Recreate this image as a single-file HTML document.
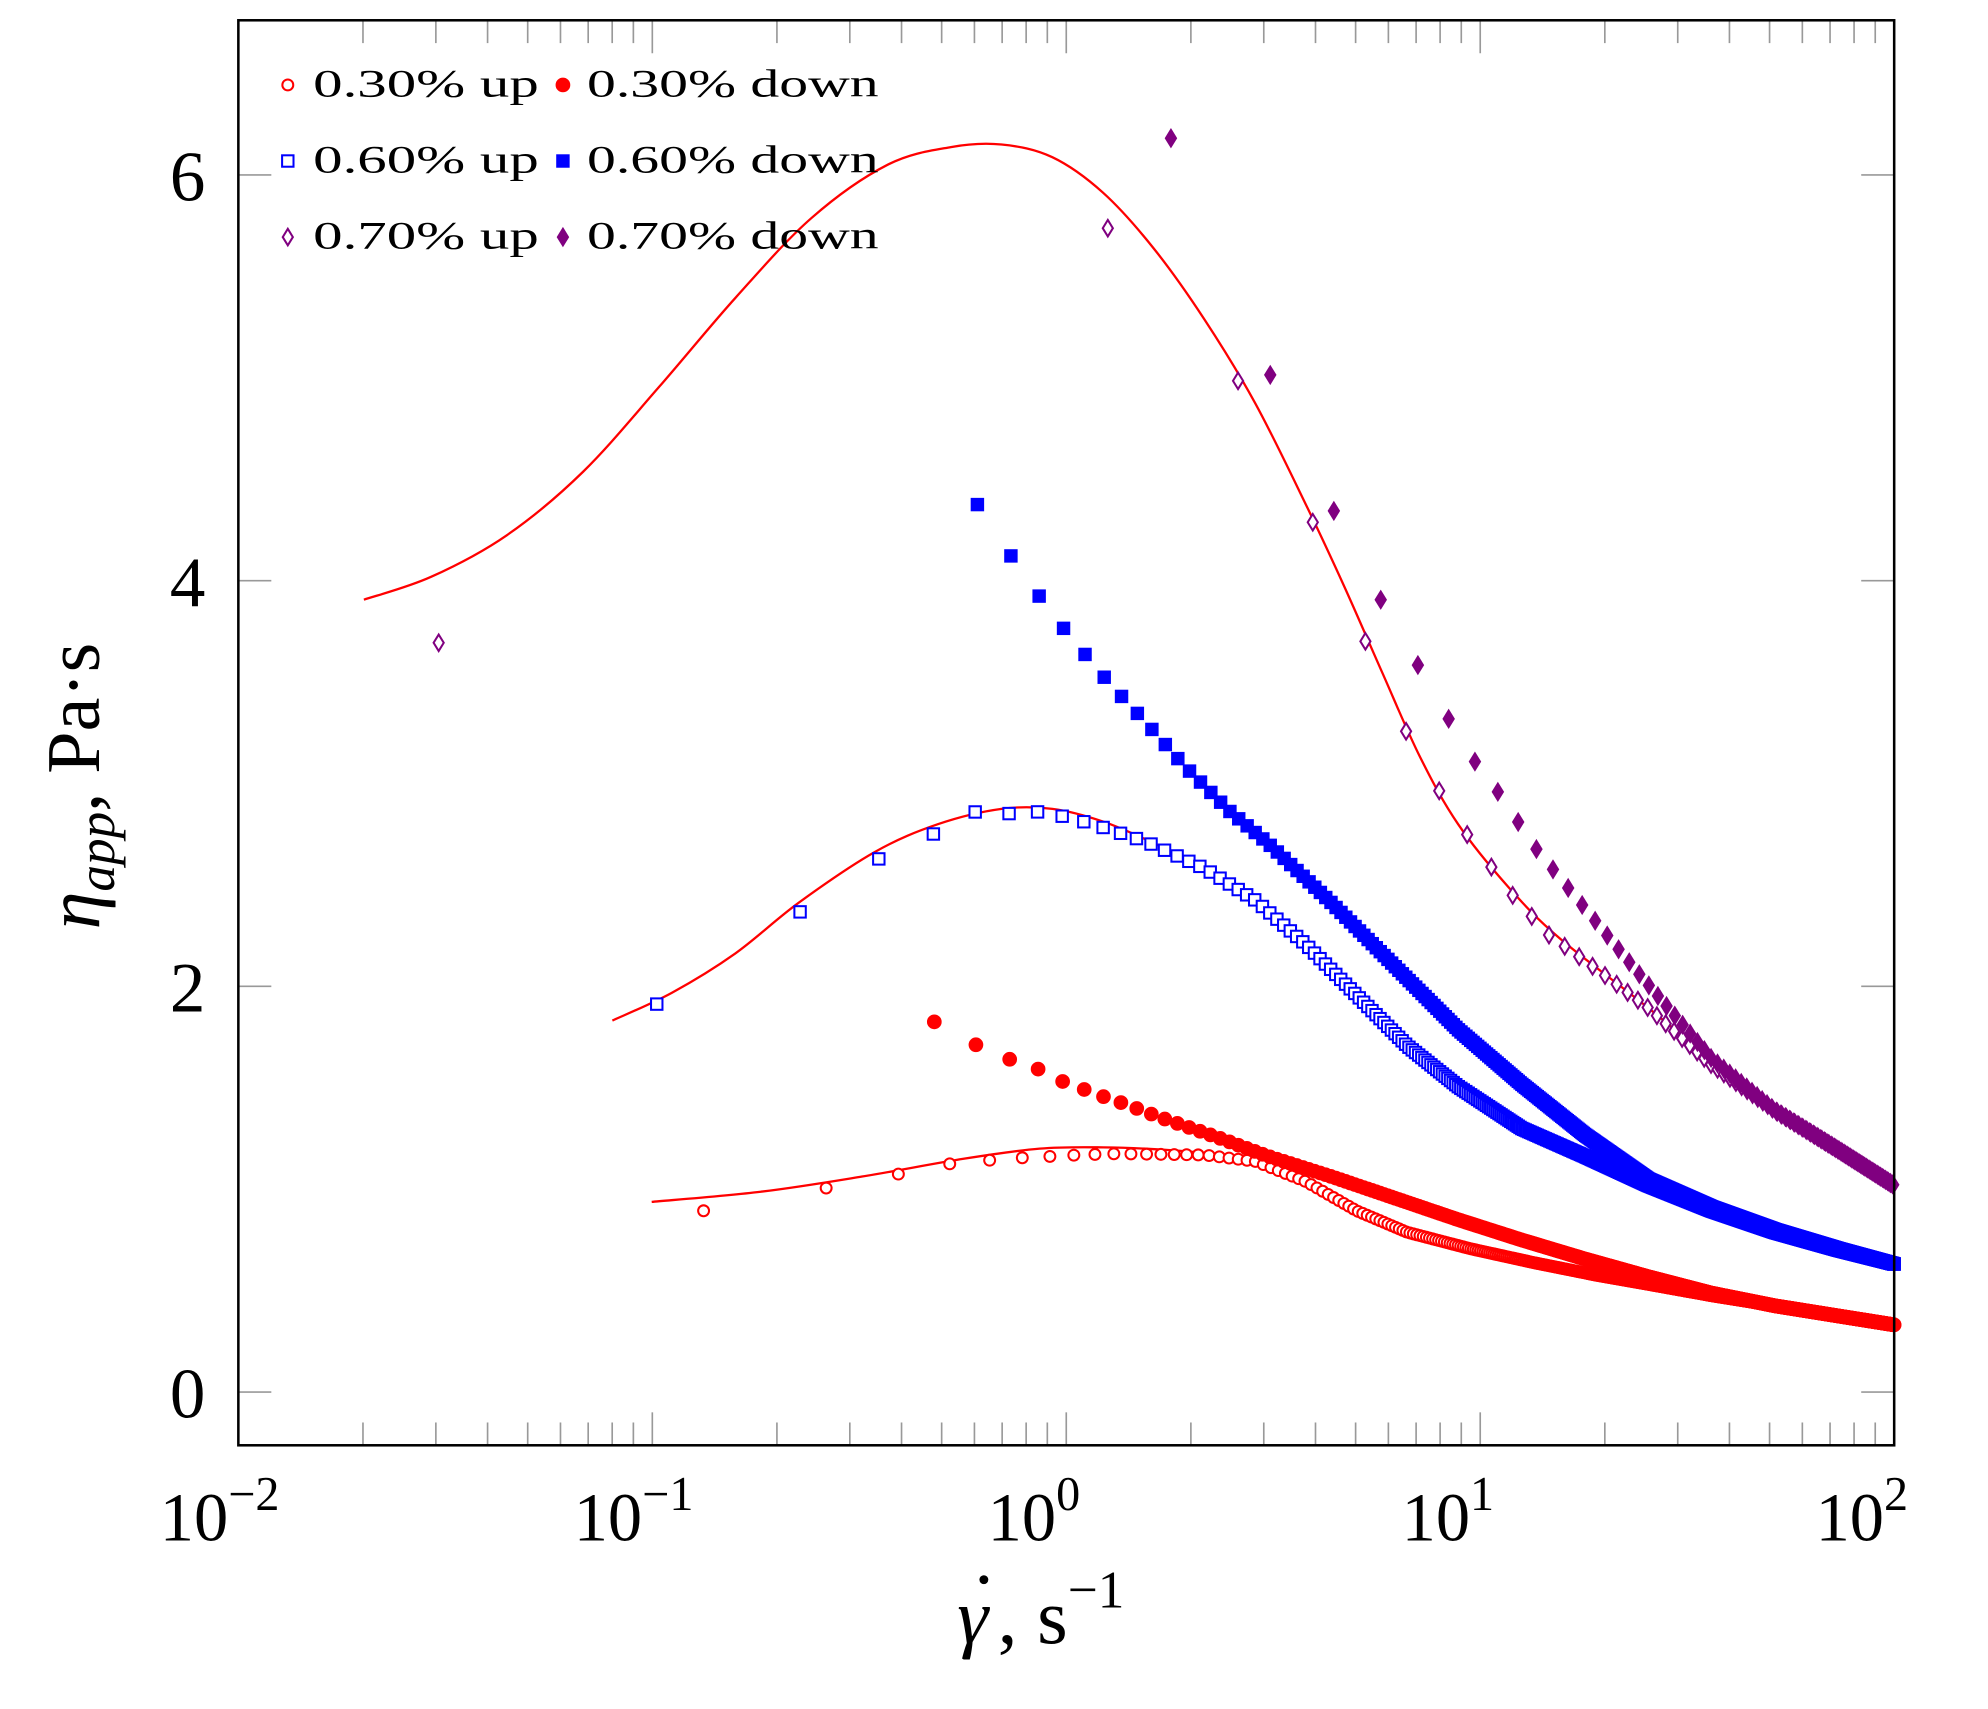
<!DOCTYPE html>
<html><head><meta charset="utf-8"><style>
html,body{margin:0;padding:0;background:#fff}
svg{display:block}
text{font-family:"Liberation Serif",serif;fill:#000}
</style></head><body>
<svg id="s" width="1988" height="1709" viewBox="0 0 1568 1348" preserveAspectRatio="none" xmlns="http://www.w3.org/2000/svg">
<rect x="0" y="0" width="1568" height="1348" fill="#fff"/>
<g id="ticks" stroke="#999" stroke-width="1.3"></g>
<g id="curves" fill="none" stroke="#f00" stroke-width="1.8"></g>
<g id="pts"></g>
<rect x="188" y="16" width="1306" height="1124" fill="none" stroke="#000" stroke-width="2"/>
<g font-size="56" text-anchor="middle">
<text x="148" y="1118">0</text>
<text x="148" y="798">2</text>
<text x="148" y="478">4</text>
<text x="148" y="158">6</text>
</g>
<g id="xl" font-size="54"></g>
<text x="755" y="1296" font-size="62" font-style="italic">γ</text>
<circle cx="776" cy="1246" r="3.5" fill="#000"/>
<text x="787" y="1296" font-size="62">, s<tspan dy="-28" font-size="42">−1</tspan></text>
<text transform="translate(78,620) rotate(-90)" font-size="60" text-anchor="middle"><tspan font-style="italic">η</tspan><tspan font-style="italic" font-size="42" dy="12">app</tspan><tspan dy="-12">, Pa·s</tspan></text>
<g font-size="31">
<text x="247" y="76" textLength="178" lengthAdjust="spacingAndGlyphs">0.30% up</text>
<text x="463" y="76" textLength="230" lengthAdjust="spacingAndGlyphs">0.30% down</text>
<text x="247" y="136" textLength="178" lengthAdjust="spacingAndGlyphs">0.60% up</text>
<text x="463" y="136" textLength="230" lengthAdjust="spacingAndGlyphs">0.60% down</text>
<text x="247" y="196" textLength="178" lengthAdjust="spacingAndGlyphs">0.70% up</text>
<text x="463" y="196" textLength="230" lengthAdjust="spacingAndGlyphs">0.70% down</text>
</g>
</svg>
<script>
var NS="http://www.w3.org/2000/svg";
function el(p,t,a){var e=document.createElementNS(NS,t);for(var k in a)e.setAttribute(k,a[k]);p.appendChild(e);return e;}
var L=188,R=1494,T=16,B=1140,D=326.5;
function X(g){return L+D*(Math.log10(g)+2);}
var tk=document.getElementById('ticks');
for(var d=-2;d<2;d++){for(var m=1;m<10;m++){var x=X(m*Math.pow(10,d));var len=m==1?26:18;
 el(tk,'line',{x1:x,y1:B,x2:x,y2:B-len});el(tk,'line',{x1:x,y1:T,x2:x,y2:T+len});}}
[0,2,4,6].forEach(function(v){var y=1098-160*v;el(tk,'line',{x1:L,y1:y,x2:L+26,y2:y});el(tk,'line',{x1:R,y1:y,x2:R-26,y2:y});});
var xl=document.getElementById('xl');
[-2,-1,0,1,2].forEach(function(d){var x=X(Math.pow(10,d));var t=el(xl,'text',{x:x-62,y:1215});
 t.textContent='10';var s=el(t,'tspan',{dy:-24,'font-size':38});s.textContent=d<0?'−'+(-d):''+d;});
function interp(a,x){if(x<=a[0][0])return a[0][1];for(var i=1;i<a.length;i++){if(x<=a[i][0]){var t=(x-a[i-1][0])/(a[i][0]-a[i-1][0]);return a[i-1][1]+t*(a[i][1]-a[i-1][1]);}}return a[a.length-1][1];}
function path(a){var c=document.getElementById('curves');var d='M'+a[0][0]+' '+a[0][1];
 for(var i=0;i<a.length-1;i++){var p0=a[Math.max(0,i-1)],p1=a[i],p2=a[i+1],p3=a[Math.min(a.length-1,i+2)];
 d+=' C'+(p1[0]+(p2[0]-p0[0])/6)+' '+(p1[1]+(p2[1]-p0[1])/6)+' '+(p2[0]-(p3[0]-p1[0])/6)+' '+(p2[1]-(p3[1]-p1[1])/6)+' '+p2[0]+' '+p2[1];}
 el(c,'path',{d:d});}
path([[287,473],[340,455],[400,422],[460,372],[520,305],[580,235],[640,172],[700,130],[750,116],[790,114],[830,124],[870,152],[910,196],[950,252],[990,318],[1030,398],[1060,462],[1090,530],[1120,597],[1150,650],[1190,700],[1230,740],[1300,795],[1400,876],[1494,935]]);
path([[483,805],[530,783],[580,752],[630,712],[690,672],[740,650],[790,638],[830,638],[870,648],[910,665],[950,685],[990,713],[1030,748],[1070,788],[1110,828],[1150,858],[1200,890],[1250,912],[1300,935],[1400,972],[1494,997]]);
path([[514,948],[600,940],[680,928],[760,914],[820,906],[870,905],[920,907],[960,911],[1000,921],[1030,935],[1070,958],[1110,974],[1160,986],[1210,996],[1300,1013],[1400,1030],[1494,1045]]);
var pts=document.getElementById('pts');
function mark(type,col,fill,x,y){
 var a={stroke:col,'stroke-width':1.6,fill:fill?col:'#fff'};
 if(type=='c'){a.cx=x;a.cy=y;a.r=fill?5:4.3;el(pts,'circle',a);}
 else if(type=='s'){a.x=x-4.5;a.y=y-4.5;a.width=9;a.height=9;el(pts,'rect',a);}
 else{a.points=x+','+(y-6.5)+' '+(x+4)+','+y+' '+x+','+(y+6.5)+' '+(x-4)+','+y;el(pts,'polygon',a);}}
function series(type,col,fill,g0,dg,anch,extra){
 if(extra)extra.forEach(function(p){mark(type,col,fill,p[0],p[1]);});
 for(var g=g0;g<=100.01;g+=dg){var x=X(g);mark(type,col,fill,x,interp(anch,x));}}
var purple='#800080';
series('c','#f00',false,0.133,0.13,[[555,955],[652,937],[709,926],[749,918],[782,915],[809,913],[831,912],[850,911],[880,910],[950,911],[990,916],[1030,932],[1070,955],[1110,972],[1160,985],[1210,996],[1260,1006],[1300,1013],[1350,1022],[1400,1030],[1450,1038],[1494,1045]]);
series('c','#f00',true,0.48,0.125,[[739,806],[773,826],[800,837],[821,844],[840,854],[857,860],[873,866],[888,871],[914,881],[960,897],[1000,912],[1050,928],[1100,945],[1150,962],[1200,978],[1250,993],[1300,1007],[1350,1020],[1400,1030],[1450,1038],[1494,1045]]);
series('s','#00f',false,0.1025,0.125,[[518,792],[627,722],[692,678],[738,657],[770,640],[800,642],[823,640],[862,650],[904,664],[950,685],[990,710],[1030,745],[1070,785],[1110,825],[1150,857],[1200,890],[1250,912],[1300,935],[1350,955],[1400,972],[1450,986],[1494,997]]);
series('s','#00f',true,0.61,0.125,[[771,398],[797,438],[823,475],[843,501],[875,539],[902,568],[934,604],[970,640],[1000,665],[1050,712],[1100,762],[1150,812],[1200,855],[1250,895],[1300,930],[1350,952],[1400,970],[1450,985],[1494,997]]);
series('d',purple,false,1.26,1.34,[[874,180],[977,301],[1036,413],[1077,506],[1108,575],[1134,622],[1157,658],[1192,705],[1221,737],[1260,765],[1300,795],[1350,840],[1400,876],[1450,907],[1494,935]],[[346,507]]);
series('d',purple,true,1.79,1.32,[[924,109],[1002,296],[1051,401],[1089,473],[1118,524],[1142,566],[1162,599],[1181,624],[1212,670],[1239,703],[1262,731],[1290,765],[1320,800],[1350,835],[1400,876],[1450,907],[1494,935]]);
mark('c','#f00',false,227,67);mark('c','#f00',true,444,67);
mark('s','#00f',false,227,127);mark('s','#00f',true,444,127);
mark('d',purple,false,227,187);mark('d',purple,true,444,187);
</script>
</body></html>
